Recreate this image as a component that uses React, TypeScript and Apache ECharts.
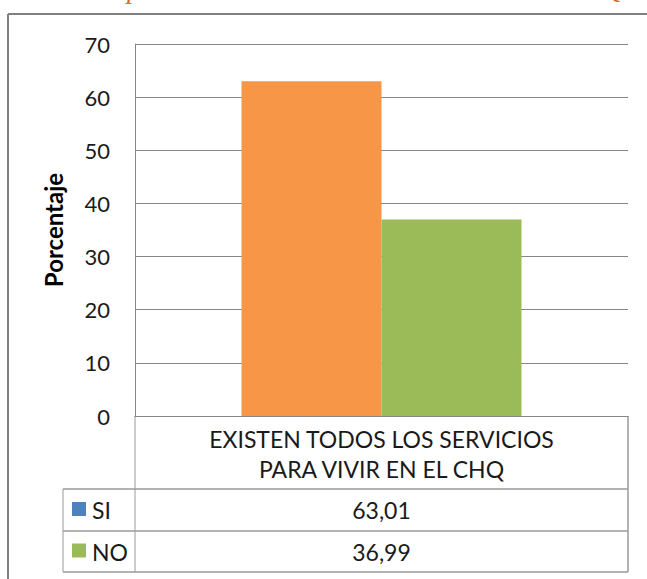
import React, { useEffect, useRef } from "react";
import * as echarts from "echarts";

const categories = ["EXISTEN TODOS LOS SERVICIOS\nPARA VIVIR EN EL CHQ"];
const seriesNames = ["SI", "NO"];
const siValues = [63.01];
const noValues = [36.99];
const barColors = ["#F79646", "#9BBB59"];
const legendKeyColors = ["#4F81BD", "#9BBB59"];
const yTicks = { min: 0, max: 70, interval: 10 };
const yAxisName = "Porcentaje";

const FONT = "Lato, 'Open Sans', sans-serif";

const fmt = (v: number) => v.toFixed(2).replace(".", ",");

export default function App() {
  const ref = useRef<HTMLDivElement>(null);
  useEffect(() => {
    document.body.style.margin = "0";
    if (!ref.current) return;
    const chart = echarts.init(ref.current, undefined, { renderer: "svg" });

    const plotLeft = 135;
    const plotRight = 628;
    const zeroY = 416;
    const row1 = 489;
    const row2 = 531;
    const row3 = 572;
    const tableLeft = 63;
    const lineColor = "#9A9A9A";
    const allValues = [siValues, noValues];

    const graphics: any[] = [
      // outer border (top & left)
      { type: "line", shape: { x1: 8, y1: 14, x2: 647, y2: 14 }, style: { stroke: "#808080", lineWidth: 2 } },
      { type: "line", shape: { x1: 8, y1: 14, x2: 8, y2: 579 }, style: { stroke: "#808080", lineWidth: 2 } },
      // partial title glyphs cut off at top of the picture (as in the reference)
      { type: "text", x: 127, y: -26, style: { text: "p", font: "italic 28px 'Liberation Serif', serif", fill: "#E36C0A" } },
      { type: "text", x: 603, y: -26, style: { text: "Q", font: "italic 28px 'Liberation Serif', serif", fill: "#E36C0A" } },
      // table lines
      { type: "line", shape: { x1: plotLeft, y1: zeroY, x2: plotLeft, y2: row3 }, style: { stroke: lineColor, lineWidth: 1 } },
      { type: "line", shape: { x1: plotRight, y1: zeroY, x2: plotRight, y2: row3 }, style: { stroke: lineColor, lineWidth: 1.5 } },
      { type: "line", shape: { x1: tableLeft, y1: row1, x2: tableLeft, y2: row3 }, style: { stroke: lineColor, lineWidth: 1 } },
      { type: "line", shape: { x1: tableLeft, y1: row1, x2: plotRight, y2: row1 }, style: { stroke: lineColor, lineWidth: 1.5 } },
      { type: "line", shape: { x1: tableLeft, y1: row2, x2: plotRight, y2: row2 }, style: { stroke: lineColor, lineWidth: 1.5 } },
      { type: "line", shape: { x1: tableLeft, y1: row3, x2: plotRight, y2: row3 }, style: { stroke: lineColor, lineWidth: 1.5 } },
    ];

    const rowCenters = [(row1 + row2) / 2, (row2 + row3) / 2];
    seriesNames.forEach((name, i) => {
      const cy = rowCenters[i];
      graphics.push({ type: "rect", shape: { x: 72, y: cy - 8, width: 14, height: 14 }, style: { fill: legendKeyColors[i] } });
      graphics.push({
        type: "text", x: 92, y: cy,
        style: { text: name, font: `23px ${FONT}`, fill: "#1a1a1a", verticalAlign: "middle", align: "left" },
      });
      graphics.push({
        type: "text", x: (plotLeft + plotRight) / 2, y: cy,
        style: { text: fmt(allValues[i][0]), font: `23px ${FONT}`, fill: "#1a1a1a", verticalAlign: "middle", align: "center" },
      });
    });

    chart.setOption({
      animation: false,
      backgroundColor: "#FFFFFF",
      grid: { left: plotLeft, right: 647 - plotRight, top: 44, bottom: 579 - zeroY, containLabel: false },
      xAxis: {
        type: "category",
        data: categories,
        axisTick: { show: false },
        axisLine: { show: true, lineStyle: { color: "#868686", width: 1 } },
        axisLabel: { fontFamily: FONT, fontSize: 23, color: "#1a1a1a", lineHeight: 30, margin: 8 },
      },
      yAxis: {
        type: "value",
        min: yTicks.min,
        max: yTicks.max,
        interval: yTicks.interval,
        name: yAxisName,
        nameLocation: "middle",
        nameRotate: 90,
        nameGap: 70,
        nameTextStyle: { fontFamily: FONT, fontSize: 24, fontWeight: "bold", color: "#000" },
        axisLine: { show: true, lineStyle: { color: "#868686", width: 1 } },
        axisTick: { show: false },
        axisLabel: { fontFamily: FONT, fontSize: 22, color: "#1a1a1a", margin: 25 },
        splitLine: { show: true, lineStyle: { color: "#868686", width: 1 } },
      },
      series: [
        { name: seriesNames[0], type: "bar", data: siValues, barWidth: 140, barGap: "0%", itemStyle: { color: barColors[0] } },
        { name: seriesNames[1], type: "bar", data: noValues, barWidth: 140, barGap: "0%", itemStyle: { color: barColors[1] } },
      ],
      graphic: graphics,
    });
    return () => chart.dispose();
  }, []);
  return <div ref={ref} style={{ width: 647, height: 579 }} />;
}
